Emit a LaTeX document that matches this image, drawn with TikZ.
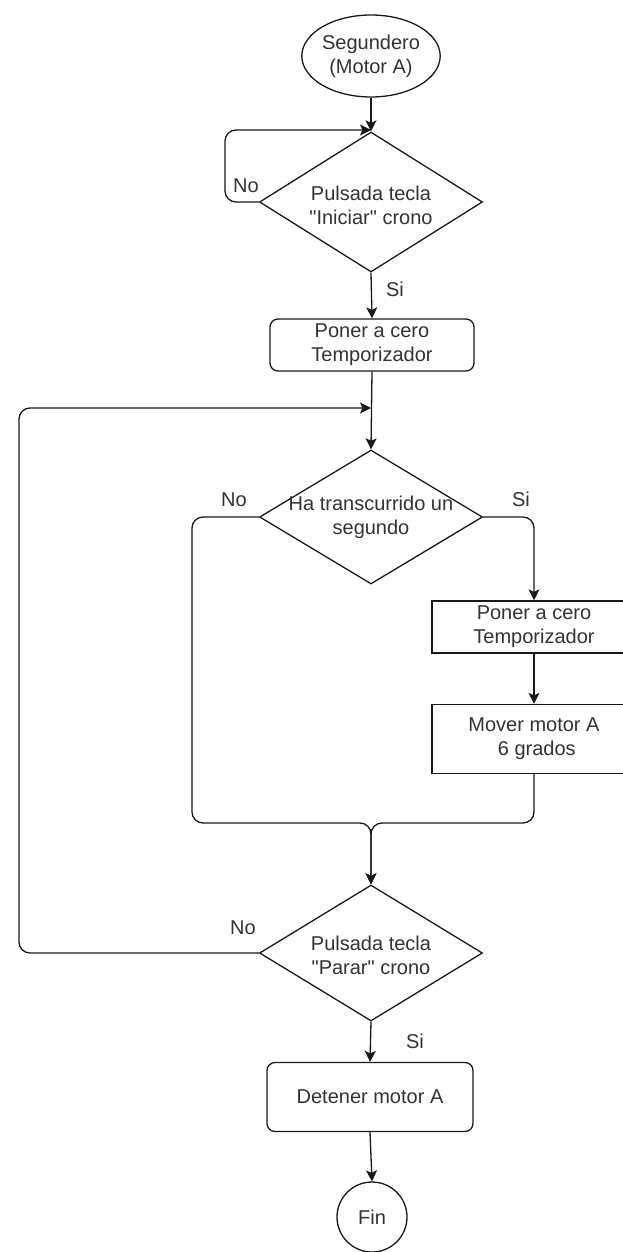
\documentclass[tikz,border=0pt]{standalone}
\usepackage{fontspec}
\setmainfont{Liberation Sans}[Ligatures=TeXOff]
\usetikzlibrary{shapes.geometric,arrows.meta}
\begin{document}
\begin{tikzpicture}[x=1pt,y=-1pt,
  every node/.style={font=\fontsize{20}{24}\selectfont, text=black!80},
  arr/.style={line width=1.3pt, draw=black!90, -{Stealth[length=11pt,width=11pt,inset=2.5pt]}, rounded corners=11pt},
  dia/.style={diamond, draw=black!90, line width=1.3pt, minimum width=223pt, minimum height=136pt, inner sep=0pt},
  rbox/.style={rectangle, draw=black!90, line width=1.3pt, rounded corners=8pt, align=center, inner sep=0pt},
  sbox/.style={rectangle, draw=black!90, line width=1.3pt, align=center, inner sep=0pt},
  lbl/.style={inner sep=0pt}
]
\path[use as bounding box, clip] (0,0) rectangle (623,1252);
\fill[white] (0,0) rectangle (623,1252);

% nodes
\node[ellipse, draw=black!90, line width=1.3pt, minimum width=138pt, minimum height=82pt, inner sep=0pt, align=center] (start) at (371,56) {Segundero\\(Motor A)};
\node[dia, minimum height=140pt] (d1) at (371,202) {};
\node[lbl, align=center] (d1t) at (371,205) {Pulsada tecla\\"Iniciar" crono};
\node[rbox, minimum width=204pt, minimum height=52pt] (r1) at (372,345) {Poner a cero\\Temporizador};
\node[dia, minimum height=134pt] (d2) at (371,517) {};
\node[lbl, align=center] (d2t) at (371,517) {Ha transcurrido un\\segundo};
\node[sbox, minimum width=204pt, minimum height=52pt] (r2) at (534,627) {Poner a cero\\Temporizador};
\node[sbox, minimum width=204pt, minimum height=69pt] (r3) at (534,739) {Mover motor A\\\ 6 grados};
\node[dia, minimum height=136pt] (d3) at (371,953) {};
\node[lbl, align=center] (d3t) at (371,955) {Pulsada tecla\\"Parar" crono};
\node[rbox, minimum width=206pt, minimum height=69pt] (r4) at (370,1097) {Detener motor A};
\node[circle, draw=black!90, line width=1.3pt, minimum size=70pt, inner sep=0pt] (fin) at (372,1217) {Fin};

% junction coordinates
\coordinate (j1) at (371,130);
\coordinate (j1a) at (225,202);
\coordinate (j1b) at (225,130);
\coordinate (j2) at (371,408);
\coordinate (j2a) at (19,953);
\coordinate (j2b) at (19,408);
\coordinate (m) at (371,823);
\coordinate (la) at (192,517);
\coordinate (lb) at (192,823);
\coordinate (ra) at (534,517);
\coordinate (rb) at (534,823);

% connectors
\draw[arr] (start.south) -- (d1.north);
\draw[arr] (d1.west) -- (j1a) -- (j1b) -- (j1);
\draw[arr] (d1.south) -- (r1.north);
\draw[arr] (r1.south) -- (d2.north);
\draw[arr] (d3.west) -- (j2a) -- (j2b) -- (j2);
\draw[arr] (d2.east) -- (ra) -- (r2.north);
\draw[arr] (r2.south) -- (r3.north);
\draw[arr] (d2.west) -- (la) -- (lb) -- (m) -- (d3.north);
\draw[arr] (r3.south) -- (rb) -- (m) -- (d3.north);
\draw[arr] (d3.south) -- (r4.north);
\draw[arr] (r4.south) -- (fin.north);

% labels
\node[lbl] (no1) at (246,186) {No};
\node[lbl] (si1) at (395,289) {Si};
\node[lbl] (no2) at (234,500) {No};
\node[lbl] (si2) at (521,499) {Si};
\node[lbl] (no3) at (243,928) {No};
\node[lbl] (si3) at (415,1041) {Si};
\end{tikzpicture}
\end{document}
